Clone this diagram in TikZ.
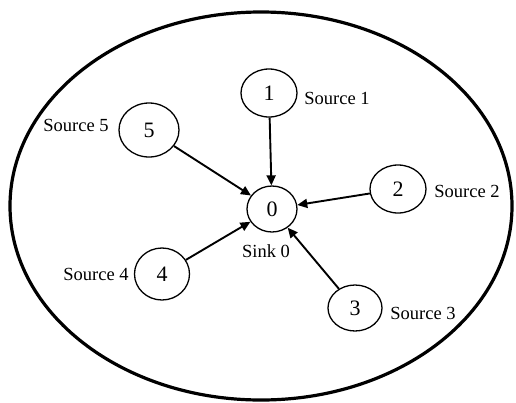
\documentclass[tikz,border=0pt]{standalone}
\usepackage{fontspec}
\setmainfont{Liberation Serif}
\usetikzlibrary{positioning}
\usetikzlibrary{shapes.geometric}
\usetikzlibrary{arrows.meta}

\begin{document}
\begin{tikzpicture}[x=1pt, y=-1pt,
  every node/.style={align=center},
  sensor/.style={draw, ellipse, line width=1.3pt, inner sep=0pt, minimum width=56pt, minimum height=48pt, font=\fontsize{22}{24}\selectfont},
  caption/.style={font=\fontsize{18.5}{20}\selectfont, inner sep=0pt},
  link/.style={line width=1.9pt, -{Triangle[length=10pt, width=9pt]}}]
\useasboundingbox (0,0) rectangle (516,402);

% field
\draw [line width=3.2pt] (261,206) ellipse [x radius=251, y radius=194];

% sink and sources
\node (sink) [sensor, minimum width=50pt, minimum height=46pt] at (272,209) {0};
\node (source 1) [sensor] at (269,93) {1};
\node (source 2) [sensor] at (398,189) {2};
\node (source 3) [sensor, minimum width=54pt, minimum height=46pt] at (355,308) {3};
\node (source 4) [sensor, minimum width=55pt, minimum height=52pt] at (162,274) {4};
\node (source 5) [sensor, minimum width=60pt, minimum height=54pt] at (149,130) {5};

\node (label sink) [caption] at (266,251) {Sink 0};
\node (label 1) [caption] at (337,98) {Source 1};
\node (label 2) [caption] at (467,191) {Source 2};
\node (label 3) [caption] at (423,313) {Source 3};
\node (label 4) [caption] at (96,274) {Source 4};
\node (label 5) [caption] at (76,125) {Source 5};

\draw [link] (source 1) -- (sink);
\draw [link] (source 2) -- (sink);
\draw [link] (source 3) -- (sink);
\draw [link] (source 4) -- (sink);
\draw [link] (source 5) -- (sink);

\end{tikzpicture}
\end{document}
